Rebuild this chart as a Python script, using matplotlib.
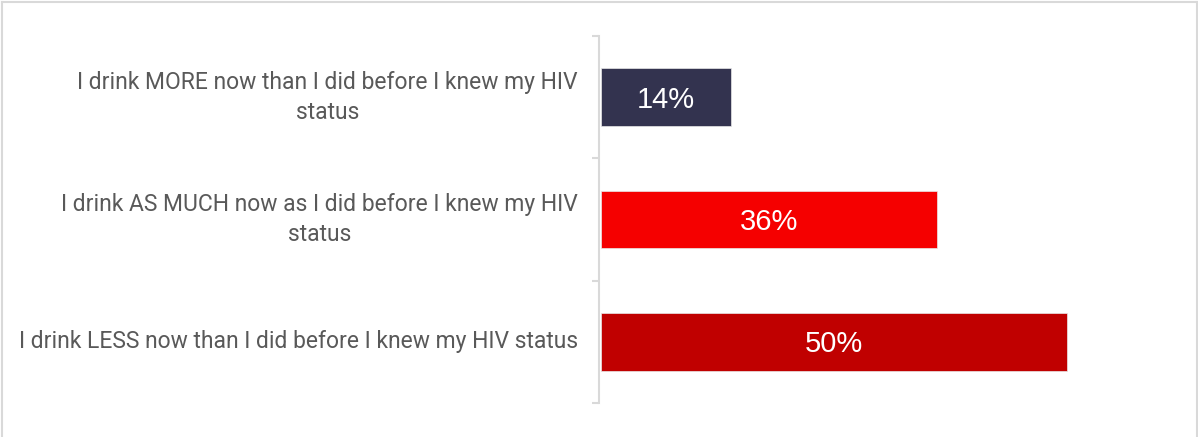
import matplotlib.pyplot as plt
from matplotlib.lines import Line2D

categories = [
    "I drink MORE now than I did before I knew my HIV\nstatus",
    "I drink AS MUCH now as I did before I knew my HIV\nstatus",
    "I drink LESS now than I did before I knew my HIV status",
]
values = [14, 36, 50]
colors = ["#33334f", "#f50000", "#c00000"]

W, H = 1198, 437
fig = plt.figure(figsize=(W / 100, H / 100), dpi=100)

# axes in pixel terms: left edge at the spine, 9.33 px per percent
left, right, top, bottom = 599, 1190, 36, 403
ax = fig.add_axes([left / W, 1 - bottom / H, (right - left) / W, (bottom - top) / H])
ax.set_xlim(-0.2, (right - left) / 9.33 - 0.2)
ax.set_ylim(2.5, -0.5)

ax.barh(range(len(values)), values, height=0.47, color=colors,
        edgecolor="#e8e8e8", linewidth=0.5)
for i, v in enumerate(values):
    ax.text(v / 2, i + 0.02, f"{v}%", ha="center", va="center", color="white",
            fontsize=21, family="Liberation Sans")

for s in ["top", "right", "bottom"]:
    ax.spines[s].set_visible(False)
ax.spines["left"].set_color("#d9d9d9")
ax.spines["left"].set_linewidth(1.5)
ax.set_xticks([])
ax.set_yticks([-0.5, 0.5, 1.5, 2.5])
ax.set_yticklabels([])
ax.tick_params(axis="y", length=5, color="#d9d9d9", width=1.5)

# category labels, right edge near x=578 px
for i, c in enumerate(categories):
    ax.annotate(c, xy=(0, i), xycoords=("axes fraction", "data"),
                xytext=(-21, 0), textcoords="offset pixels",
                ha="right", va="center", color="#595959", fontsize=16.5,
                family="Roboto", multialignment="center",
                linespacing=1.4)

# light frame around the figure (no bottom edge)
fc = "#d9d9d9"
fig.add_artist(Line2D([1.5 / W, 1.5 / W], [0, 1 - 1.5 / H], color=fc, lw=1.5))
fig.add_artist(Line2D([1.5 / W, 1 - 1.5 / W], [1 - 1.5 / H, 1 - 1.5 / H], color=fc, lw=1.5))
fig.add_artist(Line2D([1 - 1.5 / W, 1 - 1.5 / W], [0, 1 - 1.5 / H], color=fc, lw=1.5))

fig.savefig("out.png", dpi=100)
